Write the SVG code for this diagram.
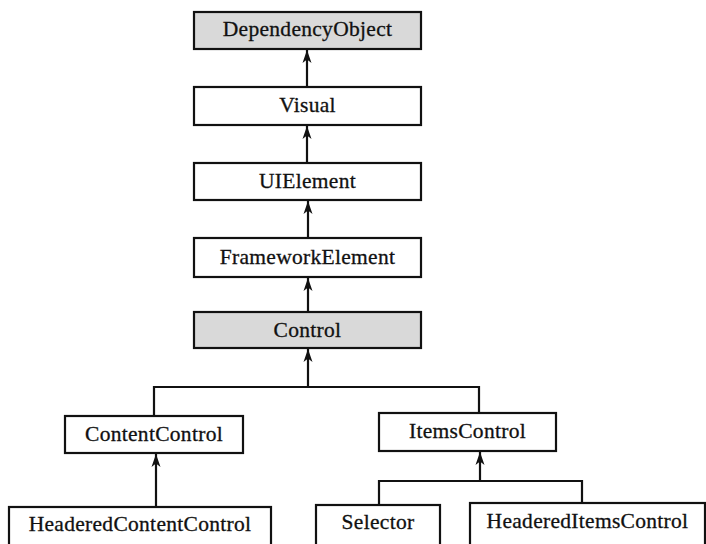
<svg xmlns="http://www.w3.org/2000/svg" width="706" height="544" viewBox="0 0 706 544">
<style>
  .box { fill: #ffffff; stroke: #111111; stroke-width: 2.2; }
  .gray { fill: #d9d9d9; }
  .lbl { font-family: "Liberation Serif", "Times New Roman", serif; font-size: 21.5px; letter-spacing: 0.3px; fill: #111111; stroke: #111111; stroke-width: 0.3; text-anchor: middle; }
  .conn { fill: none; stroke: #111111; stroke-width: 2.2; }
</style>
<defs>
  <marker id="arr" viewBox="0 -5 13 10" refX="13" refY="0" markerWidth="13" markerHeight="10" markerUnits="userSpaceOnUse" orient="auto">
    <path d="M0,-4.5 L13,0 L0,4.5 L3.5,0 Z" fill="#111111"/>
  </marker>
</defs>
<rect width="706" height="544" fill="#ffffff"/>
<g id="connectors">
  <line class="conn" x1="307" y1="87" x2="307" y2="50" marker-end="url(#arr)"/>
  <line class="conn" x1="307" y1="163" x2="307" y2="126" marker-end="url(#arr)"/>
  <line class="conn" x1="308" y1="238" x2="308" y2="201" marker-end="url(#arr)"/>
  <line class="conn" x1="308" y1="312" x2="308" y2="278" marker-end="url(#arr)"/>
  <path class="conn" d="M154,416 V387 H479 V413"/>
  <line class="conn" x1="308" y1="387" x2="308" y2="349" marker-end="url(#arr)"/>
  <line class="conn" x1="156" y1="507" x2="156" y2="454" marker-end="url(#arr)"/>
  <path class="conn" d="M379,505 V481 H582 V503"/>
  <line class="conn" x1="480" y1="481" x2="480" y2="452" marker-end="url(#arr)"/>
</g>
<g id="DependencyObject">
  <rect class="box gray" x="194" y="12" width="227" height="37"/>
  <text class="lbl" x="307.5" y="36">DependencyObject</text>
</g>
<g id="Visual">
  <rect class="box" x="194" y="87" width="227" height="38"/>
  <text class="lbl" x="307.5" y="112">Visual</text>
</g>
<g id="UIElement">
  <rect class="box" x="194" y="163" width="227" height="37"/>
  <text class="lbl" x="307.5" y="188">UIElement</text>
</g>
<g id="FrameworkElement">
  <rect class="box" x="194" y="238" width="227" height="39"/>
  <text class="lbl" x="307.5" y="264">FrameworkElement</text>
</g>
<g id="Control">
  <rect class="box gray" x="194" y="312" width="227" height="36"/>
  <text class="lbl" x="307.5" y="337">Control</text>
</g>
<g id="ContentControl">
  <rect class="box" x="65" y="416" width="178" height="37"/>
  <text class="lbl" x="154" y="441">ContentControl</text>
</g>
<g id="ItemsControl">
  <rect class="box" x="379" y="413" width="177" height="38"/>
  <text class="lbl" x="467.5" y="438">ItemsControl</text>
</g>
<g id="HeaderedContentControl">
  <rect class="box" x="9" y="507" width="262" height="42"/>
  <text class="lbl" x="140" y="531">HeaderedContentControl</text>
</g>
<g id="Selector">
  <rect class="box" x="316" y="505" width="124" height="44"/>
  <text class="lbl" x="378" y="529">Selector</text>
</g>
<g id="HeaderedItemsControl">
  <rect class="box" x="470" y="503" width="235" height="46"/>
  <text class="lbl" x="587.5" y="528">HeaderedItemsControl</text>
</g>
</svg>
